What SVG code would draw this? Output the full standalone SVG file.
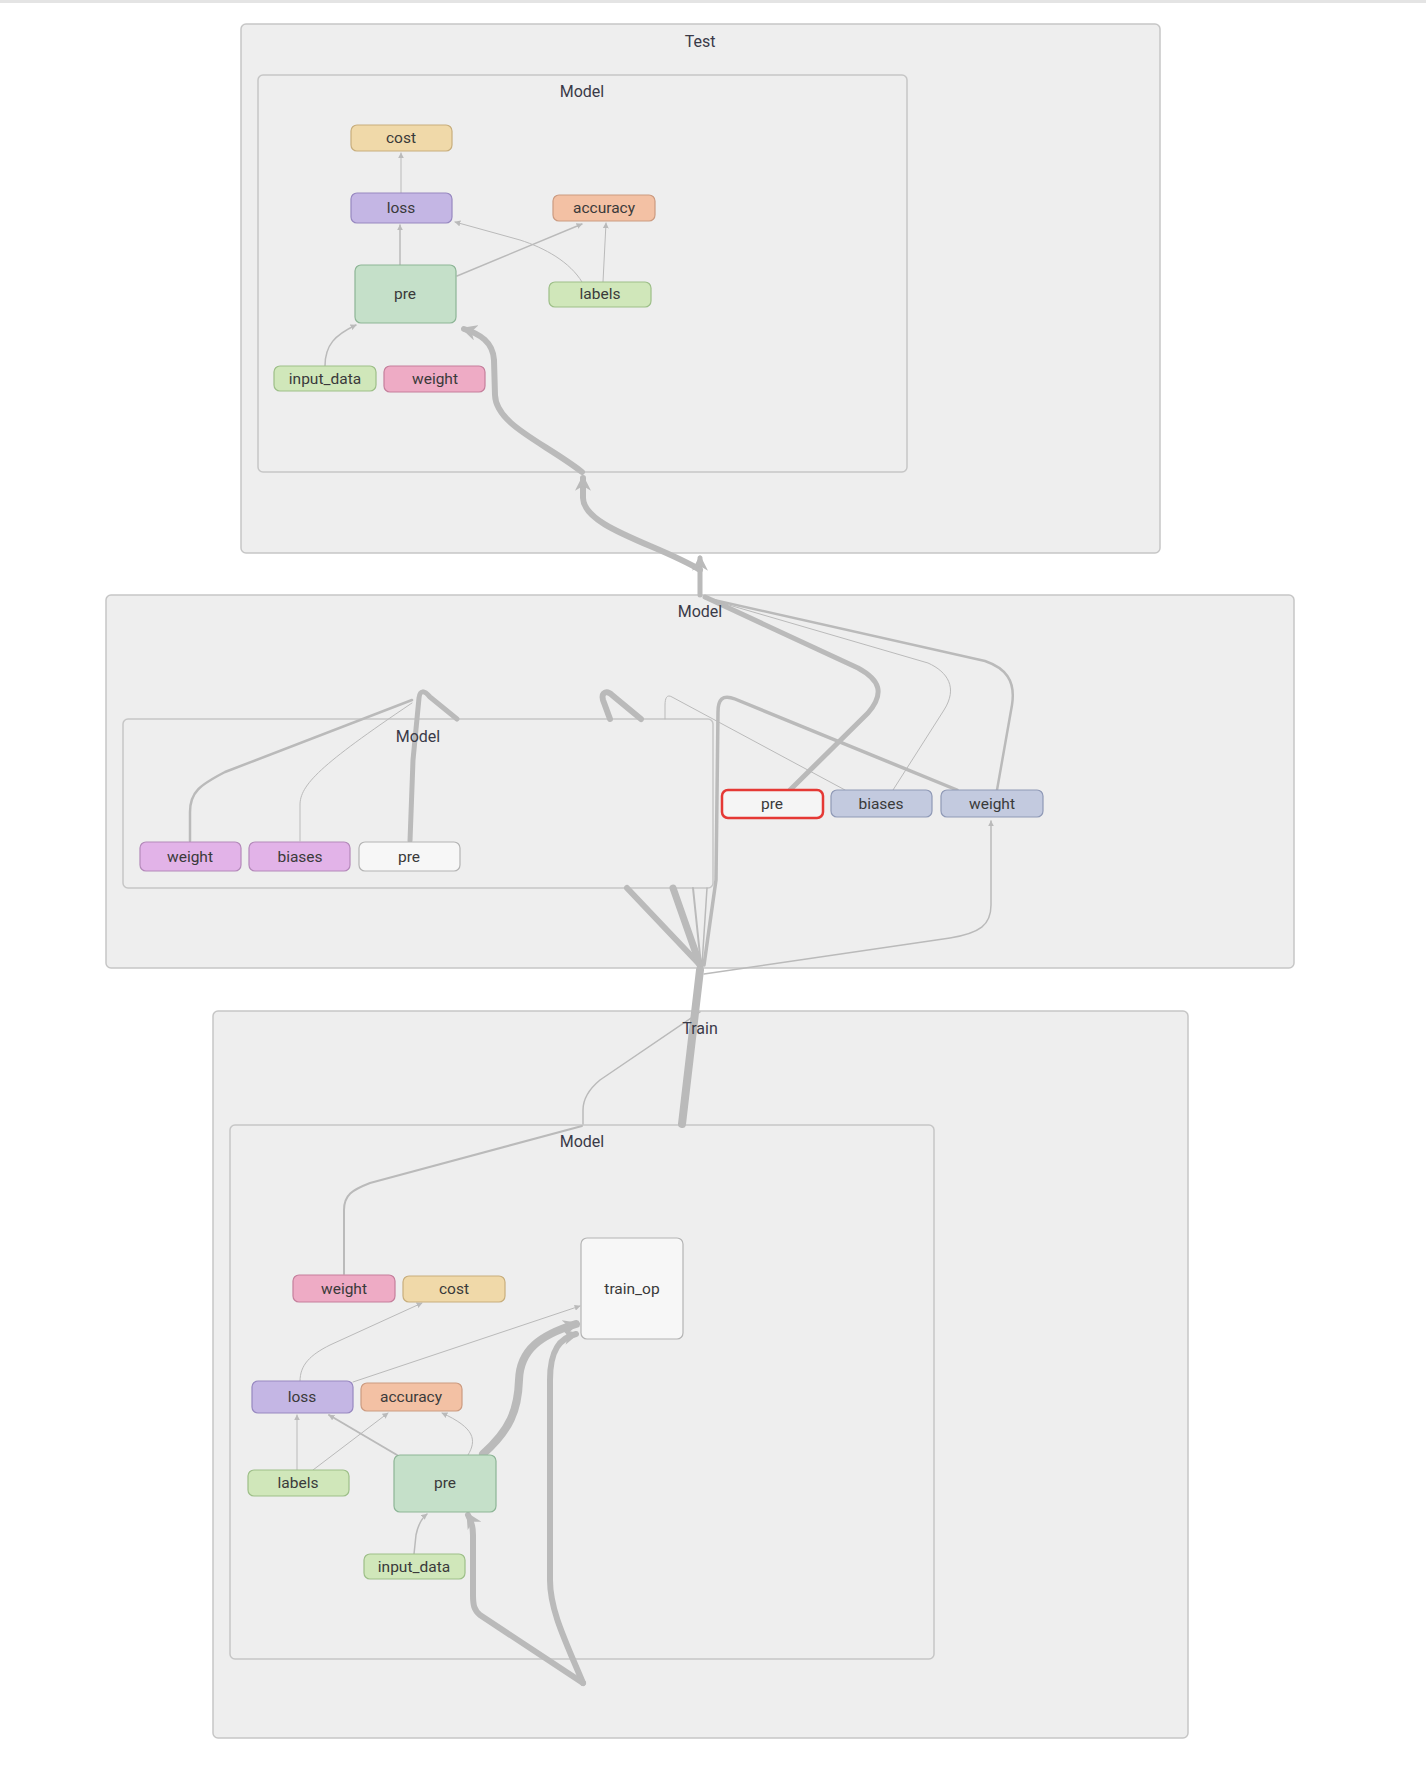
<svg xmlns="http://www.w3.org/2000/svg" width="1426" height="1780" viewBox="0 0 1426 1780">
<defs>
<style>
.grp{fill:#eeeeee;stroke:#c6c6c6;stroke-width:1.5}
.lbl{font-family:Roboto,"Liberation Sans",sans-serif;font-size:15.5px;fill:#3a3a3a;text-anchor:middle}
.glbl{font-family:Roboto,"Liberation Sans",sans-serif;font-size:16px;fill:#3a3a48;text-anchor:middle}
.nd{stroke-width:1.2}
.e{fill:none;stroke:#bababa;stroke-linecap:round;stroke-linejoin:round}
.cost{fill:#f0d9a9;stroke:#c8ae7c}
.loss{fill:#c4b6e4;stroke:#9788c0}
.acc{fill:#f3c1a4;stroke:#cc9b80}
.pre{fill:#c5e0c9;stroke:#8db596}
.lab{fill:#d0e7ba;stroke:#9dbf88}
.wt{fill:#eeabc5;stroke:#c57f9c}
.pw{fill:#e2b3e8;stroke:#b489ba}
.bw{fill:#c3cadf;stroke:#8f99b6}
.wh{fill:#f7f7f7;stroke:#b4b4b4}
</style>
<marker id="s" viewBox="0 0 10 10" refX="9" refY="5" markerWidth="6" markerHeight="6" markerUnits="userSpaceOnUse" orient="auto"><path d="M0,0L10,5L0,10z" fill="#bababa"/></marker>
<marker id="b" viewBox="0 0 10 10" refX="8" refY="5" markerWidth="16" markerHeight="16" markerUnits="userSpaceOnUse" orient="auto"><path d="M0,0L10,5L0,10L3,5z" fill="#bababa"/></marker>
</defs>
<rect x="0" y="0" width="1426" height="3" fill="#e4e4e4"/>

<g id="group-test"><rect class="grp" x="241" y="24" width="919" height="529" rx="5"/></g>
<g id="group-test-model"><rect class="grp" x="258" y="75" width="649" height="397" rx="5"/></g>
<g id="group-model"><rect class="grp" x="106" y="595" width="1188" height="373" rx="5"/></g>
<g id="group-model-inner"><rect class="grp" x="123" y="719" width="590" height="169" rx="5"/></g>
<g id="group-train"><rect class="grp" x="213" y="1011" width="975" height="727" rx="5"/></g>
<g id="group-train-model"><rect class="grp" x="230" y="1125" width="704" height="534" rx="5"/></g>

<g id="connectors">
<!-- Test Model -->
<path class="e" stroke-width="1" d="M401,193L401,153" marker-end="url(#s)"/>
<path class="e" stroke-width="1.5" d="M400,265L400,225" marker-end="url(#s)"/>
<path class="e" stroke-width="1" d="M582,282C570,262 545,248 520,240L455,222" marker-end="url(#s)"/>
<path class="e" stroke-width="1.5" d="M457,276L582,224" marker-end="url(#s)"/>
<path class="e" stroke-width="1" d="M603,282L606,223" marker-end="url(#s)"/>
<path class="e" stroke-width="1.5" d="M325,366C325,345 335,335 356,325" marker-end="url(#s)"/>
<path class="e" stroke-width="6" d="M582,472C545,443 496,425 495,395L494,360C493,342 480,334 464,329" marker-end="url(#b)"/>
<path class="e" stroke-width="6" d="M700,570C660,545 584,528 583,498L583,478" marker-end="url(#b)"/>
<path class="e" stroke-width="5" d="M700,595L700,558" marker-end="url(#b)"/>
<!-- Middle Model -->
<path class="e" stroke-width="5" d="M790,790L868,713C885,693 880,680 858,668L705,597"/>
<path class="e" stroke-width="1" d="M893,790L944,710C958,688 948,672 928,663L705,598"/>
<path class="e" stroke-width="2.5" d="M997,790L1012,705C1016,680 1005,668 985,661L705,598"/>
<path class="e" stroke-width="3.5" d="M957,790L735,699C722,694 718,700 718,712L716,880L704,965"/>
<path class="e" stroke-width="1" d="M845,790L672,697C667,694 665,698 665,705L665,719"/>
<path class="e" stroke-width="5" d="M410,841L413,760L419,698C420,690 424,690 430,697L457,719"/>
<path class="e" stroke-width="2.5" d="M190,841L190,812C190,792 200,785 225,772L412,700"/>
<path class="e" stroke-width="1" d="M300,841L300,805C300,785 320,765 412,703"/>
<path class="e" stroke-width="6" d="M610,719L603,700C601,692 607,690 612,695L641,719"/>
<path class="e" stroke-width="6" d="M627,888L700,965"/>
<path class="e" stroke-width="7" d="M673,888L700,965"/>
<path class="e" stroke-width="2" d="M693,888L701,965"/>
<path class="e" stroke-width="1.5" d="M707,888L702,965"/>
<path class="e" stroke-width="1.5" d="M704,974L950,938C980,933 991,925 991,905L991,821" marker-end="url(#s)"/>
<!-- Train -->
<path class="e" stroke-width="8" d="M700,970L682,1124"/>
<path class="e" stroke-width="1.5" d="M700,1012L600,1080C588,1090 583,1100 583,1110L583,1124"/>
<path class="e" stroke-width="2" d="M344,1274L344,1210C344,1195 352,1190 370,1183L582,1126"/>
<path class="e" stroke-width="1" d="M300,1381C300,1365 310,1355 330,1345L422,1303" marker-end="url(#s)"/>
<path class="e" stroke-width="1" d="M353,1382L580,1306" marker-end="url(#s)"/>
<path class="e" stroke-width="1" d="M297,1470L297,1415" marker-end="url(#s)"/>
<path class="e" stroke-width="1" d="M313,1470L388,1413" marker-end="url(#s)"/>
<path class="e" stroke-width="2" d="M397,1455L329,1415" marker-end="url(#s)"/>
<path class="e" stroke-width="1" d="M468,1455C477,1440 475,1428 442,1413" marker-end="url(#s)"/>
<path class="e" stroke-width="8" d="M483,1454C510,1430 518,1410 519,1380C520,1350 540,1335 576,1324" marker-end="url(#b)"/>
<path class="e" stroke-width="6" d="M583,1683C565,1640 550,1610 550,1580L550,1380C550,1350 560,1338 576,1334" marker-end="url(#b)"/>
<path class="e" stroke-width="6" d="M583,1683L480,1615C474,1610 473,1605 473,1595L473,1535C473,1525 471,1520 468,1515" marker-end="url(#b)"/>
<path class="e" stroke-width="1.5" d="M414,1554L416,1535C418,1525 422,1518 427,1514" marker-end="url(#s)"/>
</g>

<g id="group-labels">
<text class="glbl" x="700" y="47">Test</text>
<text class="glbl" x="582" y="97">Model</text>
<text class="glbl" x="700" y="617">Model</text>
<text class="glbl" x="418" y="742">Model</text>
<text class="glbl" x="700" y="1034">Train</text>
<text class="glbl" x="582" y="1147">Model</text>
</g>

<!-- Test Model nodes -->
<g id="test-cost"><rect class="nd cost" x="351" y="125" width="101" height="26" rx="6"/><text class="lbl" x="401" y="143">cost</text></g>
<g id="test-loss"><rect class="nd loss" x="351" y="193" width="101" height="30" rx="6"/><text class="lbl" x="401" y="213">loss</text></g>
<g id="test-accuracy"><rect class="nd acc" x="553" y="195" width="102" height="26" rx="6"/><text class="lbl" x="604" y="213">accuracy</text></g>
<g id="test-pre"><rect class="nd pre" x="355" y="265" width="101" height="58" rx="6"/><text class="lbl" x="405" y="299">pre</text></g>
<g id="test-labels"><rect class="nd lab" x="549" y="282" width="102" height="25" rx="6"/><text class="lbl" x="600" y="299">labels</text></g>
<g id="test-input_data"><rect class="nd lab" x="274" y="366" width="102" height="25" rx="6"/><text class="lbl" x="325" y="384">input_data</text></g>
<g id="test-weight"><rect class="nd wt" x="384" y="366" width="101" height="26" rx="6"/><text class="lbl" x="435" y="384">weight</text></g>

<!-- Middle Model nodes -->
<g id="model-inner-weight"><rect class="nd pw" x="140" y="842" width="101" height="29" rx="6"/><text class="lbl" x="190" y="862">weight</text></g>
<g id="model-inner-biases"><rect class="nd pw" x="249" y="842" width="101" height="29" rx="6"/><text class="lbl" x="300" y="862">biases</text></g>
<g id="model-inner-pre"><rect class="nd wh" x="359" y="842" width="101" height="29" rx="6"/><text class="lbl" x="409" y="862">pre</text></g>
<g id="model-pre"><rect x="722" y="790" width="101" height="28" rx="6" fill="#f5f5f5" stroke="#e53935" stroke-width="2.5"/><text class="lbl" x="772" y="809">pre</text></g>
<g id="model-biases"><rect class="nd bw" x="831" y="790" width="101" height="27" rx="6"/><text class="lbl" x="881" y="809">biases</text></g>
<g id="model-weight"><rect class="nd bw" x="941" y="790" width="102" height="27" rx="6"/><text class="lbl" x="992" y="809">weight</text></g>

<!-- Train Model nodes -->
<g id="train-weight"><rect class="nd wt" x="293" y="1275" width="102" height="27" rx="6"/><text class="lbl" x="344" y="1294">weight</text></g>
<g id="train-cost"><rect class="nd cost" x="403" y="1276" width="102" height="26" rx="6"/><text class="lbl" x="454" y="1294">cost</text></g>
<g id="train-train_op"><rect class="nd wh" x="581" y="1238" width="102" height="101" rx="6"/><text class="lbl" x="632" y="1294">train_op</text></g>
<g id="train-loss"><rect class="nd loss" x="252" y="1381" width="101" height="32" rx="6"/><text class="lbl" x="302" y="1402">loss</text></g>
<g id="train-accuracy"><rect class="nd acc" x="361" y="1383" width="101" height="28" rx="6"/><text class="lbl" x="411" y="1402">accuracy</text></g>
<g id="train-labels"><rect class="nd lab" x="248" y="1470" width="101" height="26" rx="6"/><text class="lbl" x="298" y="1488">labels</text></g>
<g id="train-pre"><rect class="nd pre" x="394" y="1455" width="102" height="57" rx="6"/><text class="lbl" x="445" y="1488">pre</text></g>
<g id="train-input_data"><rect class="nd lab" x="364" y="1554" width="101" height="25" rx="6"/><text class="lbl" x="414" y="1572">input_data</text></g>
</svg>
